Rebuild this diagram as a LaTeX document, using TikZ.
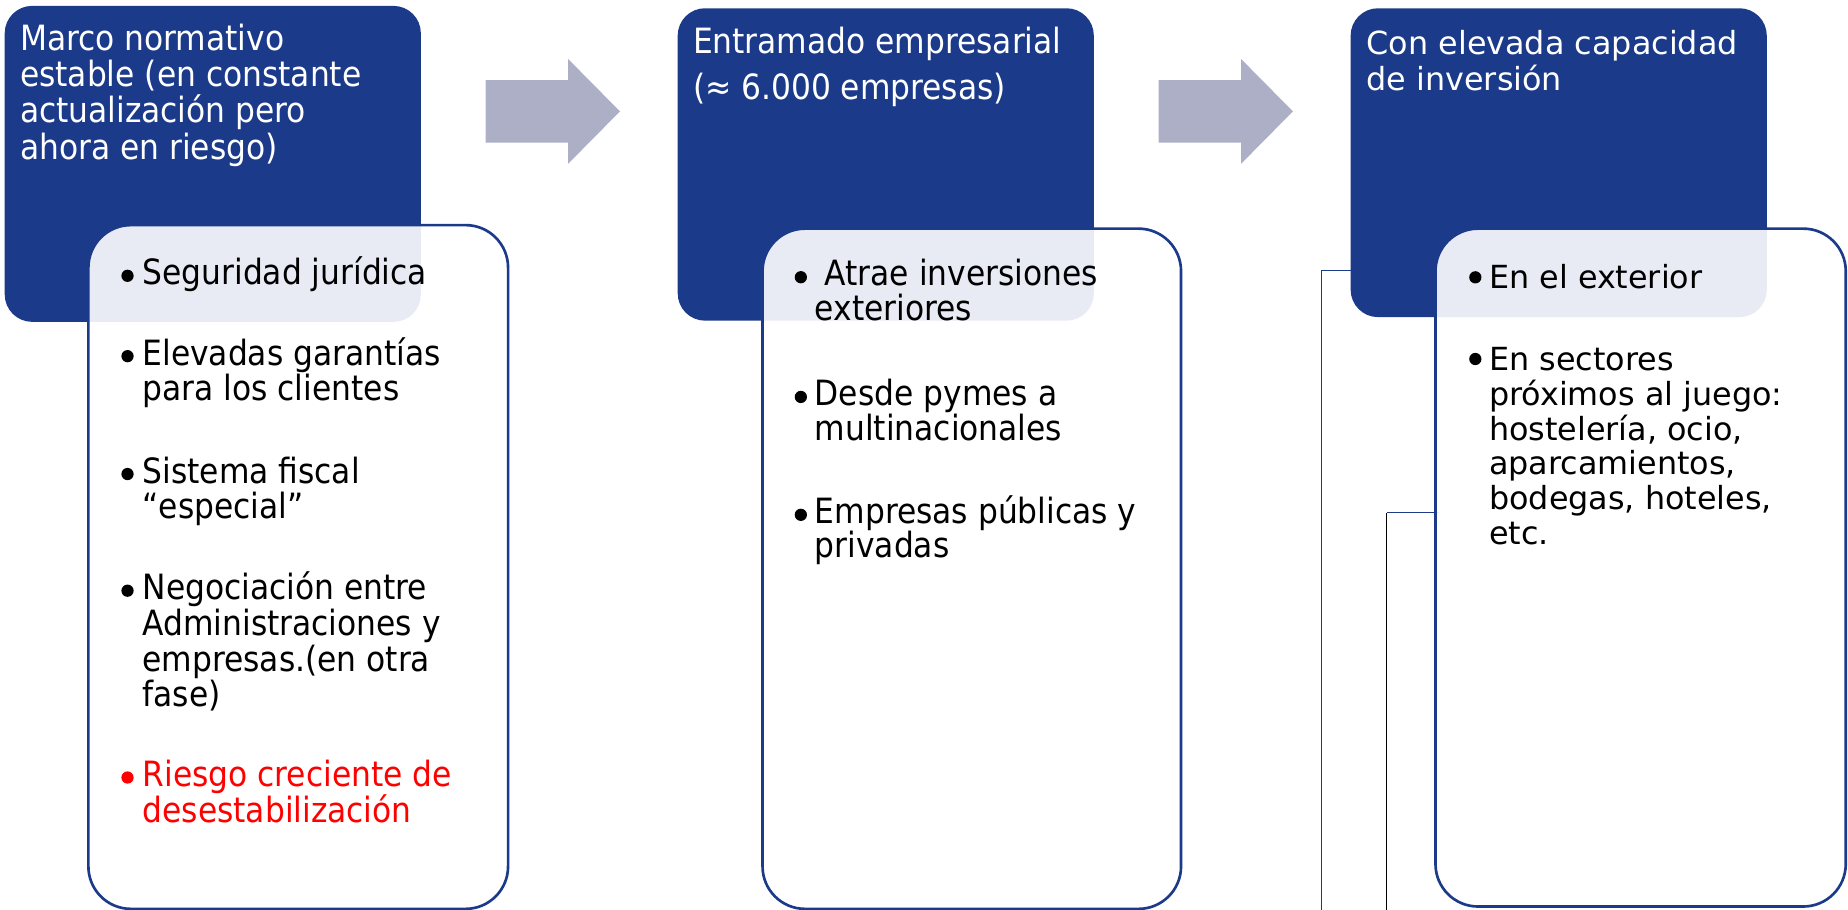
\documentclass[tikz,border=0pt]{standalone}
\usepackage{fontspec}
\usetikzlibrary{calc}
\setmainfont{DejaVu Sans}
\newfontfamily\condf{DejaVu Sans Condensed}
\newfontfamily\widef{DejaVu Sans}
\definecolor{navy}{HTML}{1B3A8A}
\definecolor{arrowc}{HTML}{ADAFC6}
\definecolor{riskred}{HTML}{FF0000}
\newcommand\ml[1]{\vtop{\lineskiplimit=-30pt\lineskip=0pt\let\\\cr\halign{##\hfil\cr#1\crcr}}}
\tikzset{
  darkbox/.style={fill=navy, rounded corners=0.58cm, inner sep=0pt, outer sep=0pt, anchor=north west},
  whitebox/.style={draw=navy, line width=1.6pt, fill=white, fill opacity=0.9, rounded corners=0.9cm, inner sep=0pt, outer sep=0pt, anchor=north west},
  blockarrow/.style={fill=arrowc},
  link/.style={draw=navy, line width=0.8pt},
  linkblack/.style={draw=black, line width=0.8pt},
  txt/.style={anchor=base west, inner sep=0pt, outer sep=0pt, text opacity=1},
  ttlA/.style={txt, text=white, font=\condf\fontsize{21}{21.9}\selectfont},
  itemA/.style={txt, text=black, font=\condf\fontsize{21}{21.5}\selectfont},
  itemB/.style={txt, text=black, font=\condf\fontsize{21}{20.9}\selectfont},
  ttlC/.style={txt, text=white, font=\widef\fontsize{19.2}{21.3}\selectfont},
  itemC/.style={txt, text=black, font=\widef\fontsize{19.2}{21.1}\selectfont},
}
\begin{document}
\begin{tikzpicture}[x=0.025cm,y=-0.025cm]
\useasboundingbox (0,0) rectangle (1568,772);
\clip (0,0) rectangle (1568,772);

% connectors (broken SmartArt links)
\coordinate (a0) at (1218,229.7);
\coordinate (abot) at (1121,800);
\coordinate (b0) at (1221,435);
\coordinate (bc) at (1176.6,435);
\coordinate (bbot) at (1176.6,800);
\draw[link] (a0) -| (abot);
\draw[link] (b0) -- (bc);
\draw[linkblack] (bc) -- (bbot);

% dark header boxes
\node[darkbox, minimum width=8.825cm, minimum height=6.7cm] (d1) at (4,5) {};
\node[darkbox, minimum width=8.825cm, minimum height=6.625cm] (d2) at (575,7) {};
\node[darkbox, minimum width=8.825cm, minimum height=6.55cm] (d3) at (1146,7) {};

% block arrows
\fill[blockarrow] (412,68) -- (482,68) -- (482,50) -- (526,94.5) -- (482,139) -- (482,121) -- (412,121) -- cycle;
\fill[blockarrow] (983,68) -- (1053,68) -- (1053,50) -- (1097,94.5) -- (1053,139) -- (1053,121) -- (983,121) -- cycle;

% white list boxes
\node[whitebox, minimum width=8.9cm, minimum height=14.5cm] (w1) at (75,191) {};
\node[whitebox, minimum width=8.875cm, minimum height=14.425cm] (w2) at (647,194) {};
\node[whitebox, minimum width=8.7cm, minimum height=14.375cm] (w3) at (1218,194) {};

% column 1
\node[ttlA] (t1) at (17,42.6) {\ml{Marco normativo\\estable (en constante\\actualización pero\\ahora en riesgo)}};
\node[itemA] (i11) at (121,241.8) {\ml{Seguridad jurídica}};
\node[itemA] (i12) at (121,310) {\ml{Elevadas garantías\\para los clientes}};
\node[itemA] (i13) at (121,410) {\ml{Sistema fiscal\\“especial”}};
\node[itemA] (i14) at (121,509) {\ml{Negociación entre\\Administraciones y\\empresas.(en otra\\fase)}};
\node[itemA, text=riskred] (i15) at (121,667.5) {\ml{Riesgo creciente de\\desestabilización}};
\foreach \n in {i11,i12,i13,i14} \fill ($(\n.base west)+(-12.8,-7.8)$) circle (5.2);
\fill[riskred] ($(i15.base west)+(-12.8,-7.8)$) circle (5.2);

% column 2
\node[ttlA] (t2) at (588,45) {\ml{Entramado empresarial\\\noalign{\vskip 6pt}(≈ 6.000 empresas)}};
\node[itemB] (i21) at (691.4,242.4) {\ml{\ Atrae inversiones\\exteriores}};
\node[itemB] (i22) at (691.4,344) {\ml{Desde pymes a\\multinacionales}};
\node[itemB] (i23) at (691.4,444) {\ml{Empresas públicas y\\privadas}};
\foreach \n in {i21,i22,i23} \fill ($(\n.base west)+(-11.9,-7.2)$) circle (5.2);

% column 3
\node[ttlC] (t3) at (1159.6,46.5) {\ml{Con elevada capacidad\\de inversión}};
\node[itemC] (i31) at (1263.5,244.7) {\ml{En el exterior}};
\node[itemC] (i32) at (1263.5,314) {\ml{En sectores\\próximos al juego:\\hostelería, ocio,\\aparcamientos,\\bodegas, hoteles,\\etc.}};
\foreach \n in {i31,i32} \fill ($(\n.base west)+(-11.7,-9.4)$) circle (5.2);
\end{tikzpicture}
\end{document}
